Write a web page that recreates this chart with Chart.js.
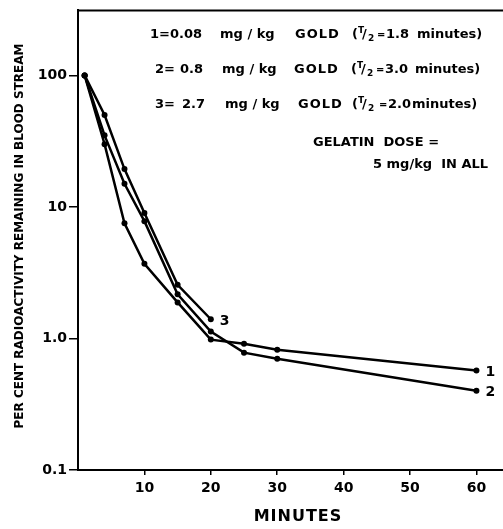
<!DOCTYPE html>
<html>
<head>
<meta charset="utf-8">
<title>Radioatividade no sangue</title>
<script src="https://cdn.jsdelivr.net/npm/chart.js@4.4.1/dist/chart.umd.min.js"></script>
<style>
  body { margin: 0; background: #fff; }
  canvas { display: block; }
</style>
</head>
<body>
<canvas id="grafico" width="503" height="529"></canvas>
<script>
// curvas (minutos x % restante)
let minutos1 = [1, 4, 7, 10, 15, 20, 25, 30, 60];
let valores1 = [100, 30, 7.5, 3.7, 1.88, 0.98, 0.91, 0.82, 0.57];
let minutos2 = [1, 4, 7, 10, 15, 20, 25, 30, 60];
let valores2 = [100, 35, 15, 7.8, 2.17, 1.13, 0.78, 0.70, 0.40];
let minutos3 = [1, 4, 7, 10, 15, 20];
let valores3 = [100, 50, 19.4, 9.0, 2.56, 1.4];
let rotulosSeries = ["1", "2", "3"];
let ticksX = [10, 20, 30, 40, 50, 60];
let ticksY = [0.1, 1, 10, 100];
let rotulosY = ["0.1", "1.0", "10", "100"];

const fonte = "'DejaVu Sans', sans-serif";

function pontos(xs, ys) {
    return xs.map(function (x, i) { return { x: x, y: ys[i] }; });
}

function serie(xs, ys) {
    return {
        data: pontos(xs, ys),
        borderColor: "#000",
        backgroundColor: "#000",
        borderWidth: 2.5,
        pointRadius: 3,
        pointBorderWidth: 0,
        pointBackgroundColor: "#000",
        tension: 0
    };
}

// escreve "T/2" com T em cima e 2 embaixo
function meiaVida(ctx, x, y) {
    ctx.font = "bold 9px " + fonte;
    ctx.fillText("T", x, y - 4);
    ctx.font = "bold 13px " + fonte;
    ctx.fillText("/", x + 4, y);
    ctx.font = "bold 9px " + fonte;
    ctx.fillText("2", x + 10, y + 4);
}

let linhasLegenda = [
    { y: 35, partes: [["1=0.08", 150], ["mg / kg", 220], ["GOLD", 295], ["(", 352], ["=", 377], ["1.8", 386], ["minutes)", 417]] },
    { y: 70, partes: [["2=", 155], ["0.8", 180], ["mg / kg", 222], ["GOLD", 294], ["(", 351], ["=", 376], ["3.0", 385], ["minutes)", 415]] },
    { y: 105, partes: [["3=", 155], ["2.7", 182], ["mg / kg", 225], ["GOLD", 298], ["(", 352], ["=", 379], ["2.0", 388], ["minutes)", 412]] }
];

const textos = {
    id: "textos",
    afterDraw: function (chart) {
        let ctx = chart.ctx;
        let area = chart.chartArea;
        ctx.save();

        // borda de cima
        ctx.strokeStyle = "#000";
        ctx.lineWidth = 2;
        ctx.beginPath();
        ctx.moveTo(area.left - 1, area.top);
        ctx.lineTo(area.right, area.top);
        ctx.stroke();

        ctx.fillStyle = "#000";
        ctx.textBaseline = "middle";
        ctx.textAlign = "left";

        linhasLegenda.forEach(function (linha) {
            linha.partes.forEach(function (p) {
                if (p[0] === "=") {
                    ctx.font = "bold 10px " + fonte;
                } else {
                    ctx.font = "bold 13px " + fonte;
                }
                if (p[0] === "GOLD") ctx.letterSpacing = "1px";
                ctx.fillText(p[0], p[1], linha.y);
                ctx.letterSpacing = "0px";
                if (p[0] === "(") {
                    meiaVida(ctx, p[1] + 6, linha.y);
                }
            });
        });

        ctx.font = "bold 13px " + fonte;
        ctx.fillText("GELATIN  DOSE =", 313, 143);
        ctx.fillText("5 mg/kg  IN ALL", 373, 165);

        // numero de cada curva no ultimo ponto
        ctx.font = "bold 14px " + fonte;
        chart.data.datasets.forEach(function (ds, i) {
            let meta = chart.getDatasetMeta(i);
            let ult = meta.data[meta.data.length - 1];
            ctx.fillText(rotulosSeries[i], ult.x + 9, ult.y + 2);
        });

        // titulos dos eixos
        ctx.font = "bold 16px " + fonte;
        ctx.textAlign = "center";
        ctx.letterSpacing = "1px";
        ctx.fillText("MINUTES", 298, 517);
        ctx.letterSpacing = "0px";

        ctx.font = "bold 12px " + fonte;
        ctx.translate(20, 236);
        ctx.rotate(-Math.PI / 2);
        ctx.fillText("PER CENT RADIOACTIVITY REMAINING IN BLOOD STREAM", 0, 0);
        ctx.restore();
    }
};

let ctx = document.getElementById("grafico");

let grafico = new Chart(ctx, {
    type: "line",
    data: {
        datasets: [
            serie(minutos1, valores1),
            serie(minutos2, valores2),
            serie(minutos3, valores3)
        ]
    },
    options: {
        responsive: false,
        animation: false,
        layout: { autoPadding: false, padding: { top: 7, right: 0, left: 0, bottom: 0 } },
        plugins: {
            legend: { display: false },
            tooltip: { enabled: false }
        },
        scales: {
            x: {
                type: "linear",
                min: 0,
                max: 64,
                afterBuildTicks: function (scale) {
                    scale.ticks = ticksX.map(function (v) { return { value: v }; });
                },
                afterFit: function (scale) { scale.height = 59; },
                grid: { drawOnChartArea: false, color: "#000", lineWidth: 1.5, tickLength: 5 },
                border: { color: "#000", width: 2 },
                ticks: {
                    color: "#000",
                    padding: 5,
                    maxRotation: 0,
                    font: { family: fonte, size: 14, weight: "bold" }
                }
            },
            y: {
                type: "logarithmic",
                min: 0.1,
                max: 312,
                afterBuildTicks: function (scale) {
                    scale.ticks = ticksY.map(function (v) { return { value: v }; });
                },
                afterFit: function (scale) { scale.width = 78; },
                grid: { drawOnChartArea: false, color: "#000", lineWidth: 1.5, tickLength: 9 },
                border: { color: "#000", width: 2 },
                ticks: {
                    color: "#000",
                    padding: 2,
                    font: { family: fonte, size: 14, weight: "bold" },
                    callback: function (value) {
                        let i = ticksY.indexOf(value);
                        return i >= 0 ? rotulosY[i] : "";
                    }
                }
            }
        }
    },
    plugins: [textos]
});
</script>
</body>
</html>
